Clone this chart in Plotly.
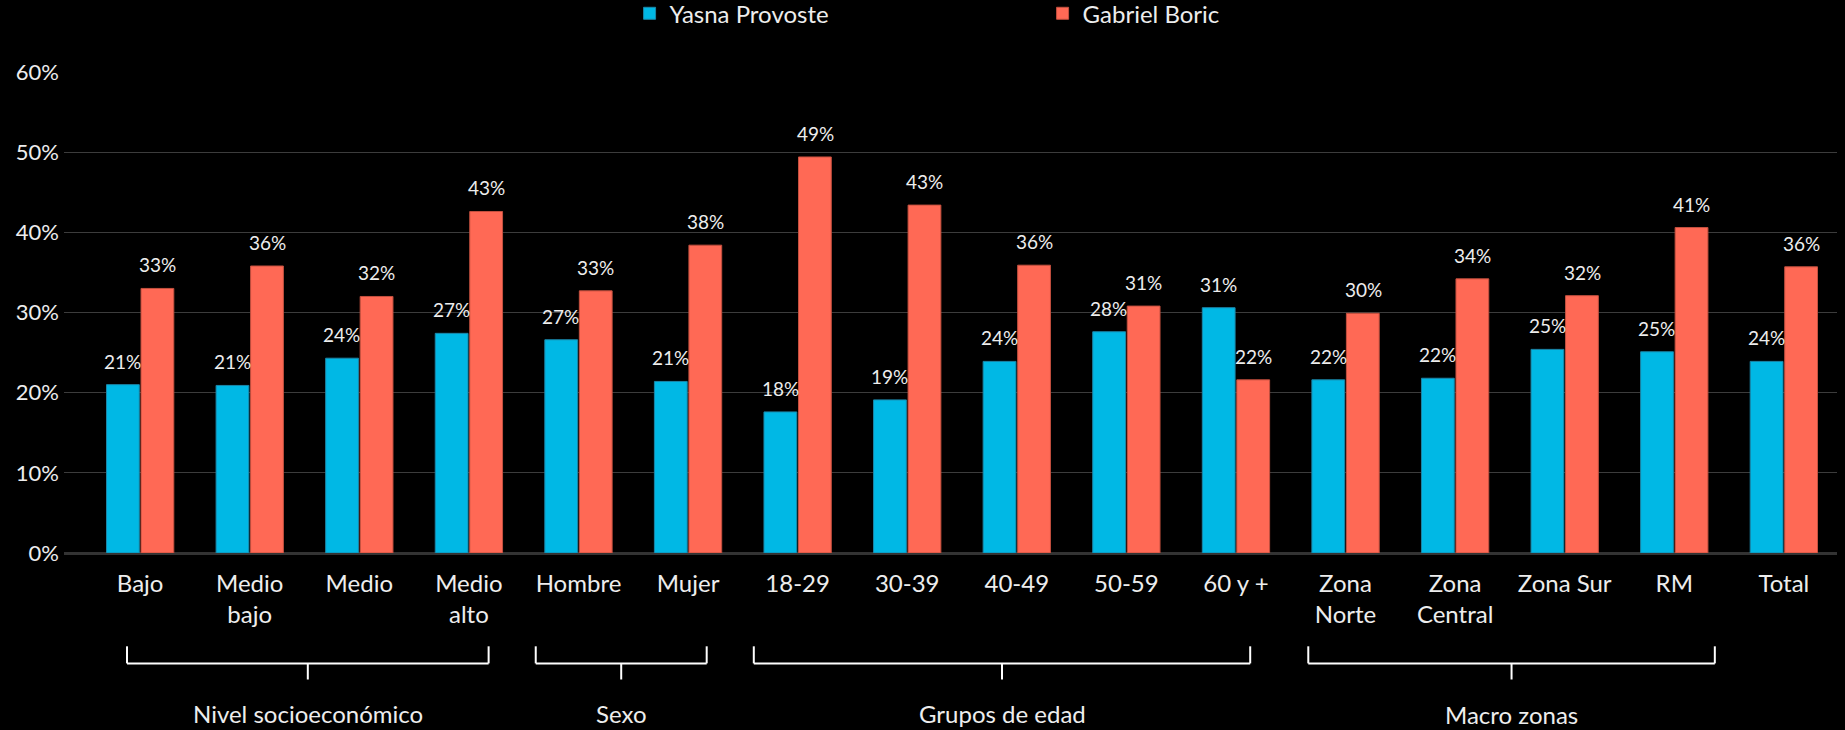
import plotly.graph_objects as go

# Categories along the x axis (line breaks as shown under each pair of bars)
categories = ["Bajo", "Medio<br>bajo", "Medio", "Medio<br>alto", "Hombre", "Mujer",
              "18-29", "30-39", "40-49", "50-59", "60 y +",
              "Zona<br>Norte", "Zona<br>Central", "Zona Sur", "RM", "Total"]

# Share of preference per segment (fractions)
provoste = [0.210, 0.209, 0.243, 0.274, 0.266, 0.214, 0.176, 0.191, 0.239, 0.276, 0.306,
            0.216, 0.218, 0.254, 0.251, 0.239]
boric = [0.330, 0.358, 0.320, 0.426, 0.327, 0.384, 0.494, 0.434, 0.359, 0.308, 0.216,
         0.299, 0.342, 0.321, 0.406, 0.357]

series_names = ["Yasna Provoste", "Gabriel Boric"]

# Segment groups shown beneath the category labels
group_names = ["Nivel socioeconómico", "Sexo", "Grupos de edad", "Macro zonas"]

y_ticks = [0, 0.1, 0.2, 0.3, 0.4, 0.5, 0.6]
y_tick_labels = ["0%", "10%", "20%", "30%", "40%", "50%", "60%"]

FONT = "Lato"
TEXT = "#EDEDED"
BLUE, BLUE_EDGE = "#00B8E5", "#1B86A8"
RED, RED_EDGE = "#FF6955", "#C4503F"

fig = go.Figure()
for name, vals, fill, edge in [(series_names[0], provoste, BLUE, BLUE_EDGE),
                               (series_names[1], boric, RED, RED_EDGE)]:
    fig.add_trace(go.Bar(
        name=name, x=categories, y=vals,
        marker=dict(color=fill, line=dict(color=edge, width=1)),
        hoverinfo="skip",
    ))

# Value labels above each bar
annotations = []
for vals, shift in [(provoste, -17.5), (boric, 17.5)]:
    for cat, v in zip(categories, vals):
        annotations.append(dict(
            x=cat, y=v, xref="x", yref="y", text=f"{v:.0%}", showarrow=False,
            xanchor="center", yanchor="bottom", xshift=shift, yshift=10,
            font=dict(family=FONT, size=19, color=TEXT),
        ))

# Brackets grouping the categories (spans in category-index units)
bracket_spans = [(-0.12, 3.18), (3.61, 5.17), (5.60, 10.13), (10.66, 14.37)]
label_y = [-0.333, -0.333, -0.333, -0.335]
y_end, y_bar, y_tip = -0.194, -0.2295, -0.263
shapes = []
for (a, b), name, ly in zip(bracket_spans, group_names, label_y):
    mid = (a + b) / 2
    for x0, y0, x1, y1 in [(a, y_end, a, y_bar), (b, y_end, b, y_bar),
                           (a, y_bar, b, y_bar), (mid, y_bar, mid, y_tip)]:
        shapes.append(dict(type="line", xref="x", yref="paper",
                           x0=x0, y0=y0, x1=x1, y1=y1,
                           line=dict(color="#FFFFFF", width=2)))
    annotations.append(dict(
        x=mid, y=ly, xref="x", yref="paper", text=name, showarrow=False,
        xanchor="center", yanchor="middle",
        font=dict(family=FONT, size=24, color=TEXT),
    ))

fig.update_layout(
    width=1845, height=730,
    margin=dict(l=64, r=8, t=72, b=177, pad=0, autoexpand=False),
    paper_bgcolor="#000000", plot_bgcolor="#000000",
    font=dict(family=FONT, color=TEXT),
    barmode="group", bargap=0.37, bargroupgap=0.05,
    showlegend=True,
    legend=dict(orientation="h", x=0.319, xanchor="left", y=1.168, yanchor="top",
                font=dict(family=FONT, size=24, color=TEXT),
                entrywidth=368, entrywidthmode="pixels",
                bgcolor="rgba(0,0,0,0)", borderwidth=0),
    xaxis=dict(type="category", range=[-0.695, 15.485], showgrid=False,
               showline=False, zeroline=False, ticks="", ticklabelstandoff=14,
               tickfont=dict(family=FONT, size=24, color=TEXT), fixedrange=True),
    yaxis=dict(range=[0, 0.6], tickvals=y_ticks, ticktext=y_tick_labels,
               showgrid=True, gridcolor="#3C3C3C", gridwidth=1.3,
               zeroline=True, zerolinecolor="#333333", zerolinewidth=2.5,
               showline=False, ticks="", ticklabelstandoff=4,
               tickfont=dict(family=FONT, size=22, color=TEXT), fixedrange=True),
    annotations=annotations,
    shapes=shapes,
)

fig.write_html("out.html")
